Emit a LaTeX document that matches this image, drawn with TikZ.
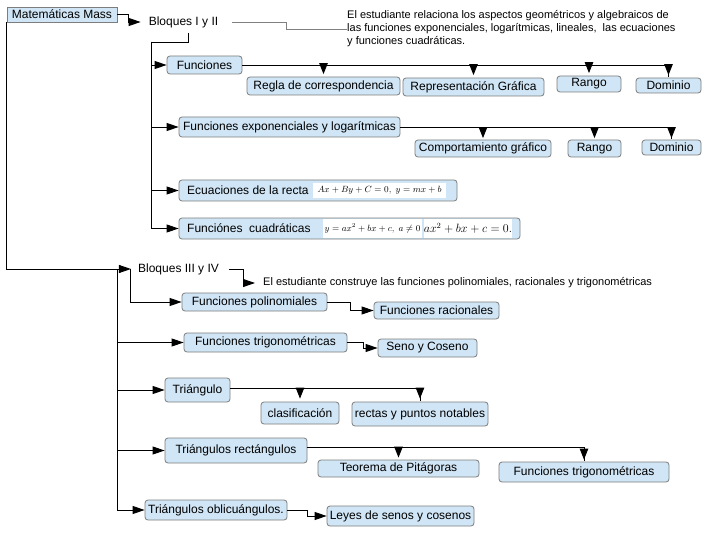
\documentclass[tikz,border=0pt]{standalone}
\usepackage{fontspec}
\setmainfont{Liberation Sans}
\usetikzlibrary{arrows.meta}
\definecolor{nodeblue}{RGB}{208,229,245}
\definecolor{nodeborder}{RGB}{125,125,125}
\begin{document}
\begin{tikzpicture}[x=1pt,y=-1pt,
  box/.style={draw=nodeborder, fill=nodeblue, rounded corners=3pt, inner sep=0pt, line width=0.8pt, font=\fontsize{12}{14}\selectfont},
  sqbox/.style={box, rounded corners=0pt},
  lbl/.style={inner sep=0pt, font=\fontsize{12}{14}\selectfont},
  note/.style={inner sep=0pt, font=\fontsize{11}{13}\selectfont, align=left},
  eq/.style={fill=white, inner sep=0pt, font=\fontsize{9.5}{12}\selectfont},
  conn/.style={line width=0.9pt, black},
  arr/.style={conn, -{Triangle[length=12pt,width=8pt]}},
  arrd/.style={conn, -{Triangle[length=11pt,width=8.5pt]}},
  thinl/.style={line width=0.7pt, gray}
]
\useasboundingbox (0,0) rectangle (717,540);
\fill[white] (0,0) rectangle (717,540);

% ---------- nodes ----------
\node[sqbox, minimum width=110pt, minimum height=15pt] (mat) at (62,14.5) {Matemáticas Mass};
\node[lbl, inner xsep=8pt, inner ysep=5pt] (b12) at (183.5,22) {Bloques I y II};
\node[note, anchor=west] (desc1) at (347,29) {El estudiante relaciona los aspectos geométricos y algebraicos de\\las funciones exponenciales, logarítmicas, lineales,~ las ecuaciones\\y funciones cuadráticas.};

\node[box, minimum width=75pt, minimum height=18pt] (fun) at (204.5,65) {Funciones};
\node[box, minimum width=153pt, minimum height=18pt] (regla) at (323.5,86) {Regla de correspondencia};
\node[box, minimum width=141pt, minimum height=18pt] (repr) at (473.5,87) {Representación Gráfica};
\node[box, minimum width=64pt, minimum height=16pt] (rango1) at (589,84) {Rango};
\node[box, minimum width=65pt, minimum height=15pt] (dom1) at (668.5,85.5) {Dominio};

\node[box, minimum width=221pt, minimum height=20pt] (fexp) at (289.5,127) {Funciones exponenciales y logarítmicas};
\node[box, minimum width=136pt, minimum height=17pt] (comp) at (483,148.5) {Comportamiento gráfico};
\node[box, minimum width=53pt, minimum height=17pt] (rango2) at (594.5,148.5) {Rango};
\node[box, minimum width=59pt, minimum height=15pt] (dom2) at (671.5,147.5) {Dominio};

\node[box, minimum width=278pt, minimum height=21pt] (ecu) at (318,190.5) {};
\node[lbl, anchor=west] (ecut) at (187,190.5) {Ecuaciones de la recta};
\node[eq, minimum width=133pt, minimum height=15pt] (ecueq) at (379.5,190.5) {$Ax+By+C=0,\ y=mx+b$};

\node[box, minimum width=341pt, minimum height=21pt] (cuad) at (349.5,228.5) {};
\node[lbl, anchor=west] (cuadt) at (187,228.5) {Funciónes~ cuadráticas};
\node[eq, minimum width=99pt, minimum height=19pt, font=\fontsize{8.8}{12}\selectfont] (cuadeqa) at (372.5,228.5) {$y=ax^{2}+bx+c,\ a\neq0$};
\node[eq, minimum width=78pt, minimum height=19pt, font=\fontsize{11.5}{14}\selectfont] (cuadeqb) at (468,228.5) {$ax^{2}+bx+c=0.$};

\node[lbl, inner xsep=7pt, inner ysep=3pt] (b34) at (178.5,269) {Bloques III y IV};
\node[note, anchor=west, inner xsep=8pt] (desc2) at (255,283) {El estudiante construye las funciones polinomiales, racionales y trigonométricas};

\node[box, minimum width=145pt, minimum height=18pt] (poli) at (254.5,302) {Funciones polinomiales};
\node[box, minimum width=125pt, minimum height=17pt] (rac) at (436.5,310.5) {Funciones racionales};
\node[box, minimum width=163pt, minimum height=19pt] (trig) at (265.5,342.5) {Funciones trigonométricas};
\node[box, minimum width=99pt, minimum height=18pt] (seno) at (427.5,348) {Seno y Coseno};

\node[box, minimum width=65pt, minimum height=24pt] (tri) at (197.5,390) {Triángulo};
\node[box, minimum width=78pt, minimum height=22pt] (clas) at (300,413) {clasificación};
\node[box, minimum width=136pt, minimum height=24pt] (rectas) at (420,414) {rectas y puntos notables};

\node[box, minimum width=142pt, minimum height=25pt] (trirec) at (236,450.5) {Triángulos rectángulos};
\node[box, minimum width=161pt, minimum height=17pt] (teo) at (398.5,468.5) {Teorema de Pitágoras};
\node[box, minimum width=170pt, minimum height=20pt] (ftrig) at (584,472) {Funciones trigonométricas};

\node[box, minimum width=142pt, minimum height=20pt] (triobl) at (216,510) {Triángulos oblicuángulos.};
\node[box, minimum width=147pt, minimum height=20pt] (leyes) at (400.5,516) {Leyes de senos y cosenos};

% ---------- connectors, upper part ----------
\draw[arr] (mat.east) -- ++(11,0) |- (b12.west);
\draw[thinl] ([xshift=6pt]b12.east) -- ++(54,0) |- (desc1.west);
\coordinate (t1) at (151,42);
\draw[conn] ([xshift=5pt]b12.south) |- (t1);
\draw[arr] (t1) |- (fun.west);
\draw[arr] (t1) |- (fexp.west);
\draw[arr] (t1) |- (ecu.west);
\draw[arr] (t1) |- (cuad.west);

\draw[conn] (fun.east) -| ([yshift=1pt]dom1.north);
\foreach \n in {regla,repr,rango1,dom1} \draw[arrd] (fun.east -| \n.north) -- ([yshift=2.5pt]\n.north);
\draw[conn] (fexp.east) -| ([yshift=1pt]dom2.north);
\foreach \n in {comp,rango2,dom2} \draw[arrd] (fexp.east -| \n.north) -- ([yshift=1.5pt]\n.north);

% ---------- connectors, lower part ----------
\draw[arr] (mat.south west) |- (b34.west);
\coordinate (t2) at (117,269);
\draw[arr] ([xshift=3pt]b34.east) -- ++(14,0) |- (desc2.west);
\draw[arr] (b34.west) |- (poli.west);
\draw[arr] (t2) |- (trig.west);
\draw[arr] (t2) |- (tri.west);
\draw[arr] (t2) |- (trirec.west);
\draw[arr] (t2) |- (triobl.west);

\draw[arr] (poli.east) -- ++(23,0) |- (rac.west);
\draw[arr] (trig.east) -- ++(16,0) |- (seno.west);
\draw[arr] (triobl.east) -- ++(20,0) |- (leyes.west);

\draw[conn] ([yshift=2pt]tri.east) -| ([yshift=1pt]rectas.north);
\foreach \n in {clas,rectas} \draw[arrd] ([yshift=2pt]tri.east -| \n.north) -- ([yshift=3pt]\n.north);
\draw[line width=1.8pt] ([yshift=3pt]trirec.east) -- ([yshift=3pt]trirec.east -| teo.north);
\draw[conn] ([yshift=3pt]trirec.east) -| ([yshift=1pt]ftrig.north);
\foreach \n in {teo,ftrig} \draw[arrd] ([yshift=3pt]trirec.east -| \n.north) -- ([yshift=2pt]\n.north);
\end{tikzpicture}
\end{document}
